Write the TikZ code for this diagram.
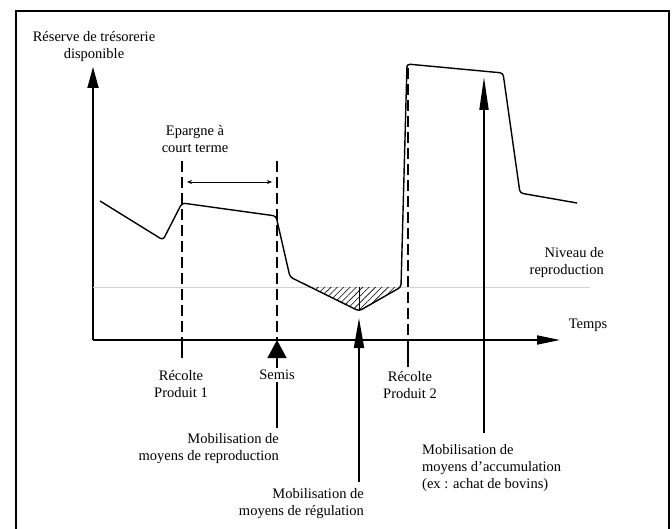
\documentclass[tikz,border=0pt]{standalone}
\usepackage{fontspec}
\setmainfont{Liberation Serif}
\usepackage{tikz}
\usetikzlibrary{arrows.meta}
\usetikzlibrary{patterns.meta}

\tikzset{
  axe/.style={line width=1.8pt},
  courbe/.style={line width=1.4pt, rounded corners=3pt},
  repere/.style={line width=1.1pt, dash pattern=on 11pt off 5pt},
  trait/.style={line width=1.1pt},
  niveau/.style={line width=0.5pt, gray!35},
  fleche/.style={line width=1.8pt},
  lbl/.style={font=\fontsize{14.5}{17}\selectfont, align=center, inner sep=0pt},
}

\begin{document}
\begin{tikzpicture}[x=1pt,y=-1pt]
  \useasboundingbox (0,0) rectangle (672,529);
  \draw[line width=1.2pt] (16,529) -- (16,11) -- (669,11) -- (669,529);

  % axes
  \coordinate (orig) at (93,340);
  \coordinate (ytip) at (93,67);
  \coordinate (xtip) at (560,340);
  \draw[axe,-{Triangle[length=21pt,width=11pt]}] (orig) -- (ytip);
  \draw[axe,-{Triangle[length=23pt,width=9pt]}] (orig) -- (xtip);
  \node[lbl] (reserve) at (94,47) {Réserve de trésorerie\\disponible};
  \node[lbl] (temps) at (588,325) {Temps};

  % niveau de reproduction
  \coordinate (nivA) at (93,287);
  \coordinate (nivB) at (590,287);
  \draw[niveau] (nivA) -- (nivB);
  \node[lbl,align=right,anchor=east] (niveau) at (604,263) {Niveau de\\reproduction};

  % courbe
  \coordinate (c0) at (100,201);
  \coordinate (c1) at (163,240);
  \coordinate (c2) at (182,203);
  \coordinate (c3) at (276,216);
  \coordinate (c4) at (290,277);
  \coordinate (cmin) at (359,311);
  \coordinate (c6) at (401,287);
  \coordinate (c7) at (407,64);
  \coordinate (c8) at (503,73);
  \coordinate (c9) at (520,193);
  \coordinate (c10) at (577,203);
  \coordinate (hA) at (310,287);
  \coordinate (hB) at (359,287);
  \fill[pattern={Lines[angle=45,distance=4.5pt,line width=0.6pt]}] (hA) -- (cmin) -- (c6) -- cycle;
  \draw[line width=0.6pt] (hB) -- (cmin);
  \draw[courbe] (c0) -- (c1) -- (c2) -- (c3) -- (c4) -- (cmin) -- (c6) -- (c7) -- (c8) -- (c9) -- (c10);

  % recolte 1
  \coordinate (rA_top) at (182,161);
  \coordinate (rA_ax) at (182,340);
  \coordinate (rA_bot) at (182,358);
  \draw[repere] (rA_top) -- (rA_ax);
  \draw[trait] (rA_ax) -- (rA_bot);
  \node[lbl] (recolteA) at (181,384) {Récolte\\Produit 1};

  % semis
  \coordinate (sm_top) at (277,161);
  \coordinate (sm_ax) at (277,340);
  \coordinate (sm_bot) at (277,428);
  \draw[repere] (sm_top) -- (sm_ax);
  \draw[trait,-{Triangle[length=18pt,width=19pt]}] (sm_bot) -- (sm_ax);
  \node[lbl,fill=white,inner sep=2pt] (semis) at (277,375) {Semis};
  \node[lbl,align=right,anchor=east] (mobrepro) at (279,449) {Mobilisation de\\moyens de reproduction};

  % epargne
  \coordinate (epA) at (187,182);
  \coordinate (epB) at (272,182);
  \draw[line width=0.6pt,{Stealth[length=5pt,width=4pt]}-{Stealth[length=5pt,width=4pt]}] (epA) -- (epB);
  \node[lbl] (epargne) at (195,139) {Epargne à\\court terme};

  % regulation
  \coordinate (rg_bot) at (359,482);
  \coordinate (rg_tip) at (359,318);
  \draw[fleche,-{Triangle[length=30pt,width=10pt]}] (rg_bot) -- (rg_tip);
  \node[lbl,align=right,anchor=east] (mobregul) at (364,504) {Mobilisation de\\moyens de régulation};

  % recolte 2
  \coordinate (rB_top) at (408,68);
  \coordinate (rB_ax) at (408,340);
  \coordinate (rB_bot) at (408,367);
  \draw[repere] (rB_top) -- (rB_ax);
  \draw[trait] (rB_ax) -- (rB_bot);
  \node[lbl] (recolteB) at (410,385) {Récolte\\Produit 2};

  % accumulation
  \coordinate (ac_bot) at (484,433);
  \coordinate (ac_tip) at (484,77);
  \draw[fleche,-{Triangle[length=33pt,width=9pt]}] (ac_bot) -- (ac_tip);
  \node[lbl,align=left,anchor=west] (mobaccu) at (422,468) {Mobilisation de\\moyens d'accumulation\\(ex : achat de bovins)};
\end{tikzpicture}
\end{document}
